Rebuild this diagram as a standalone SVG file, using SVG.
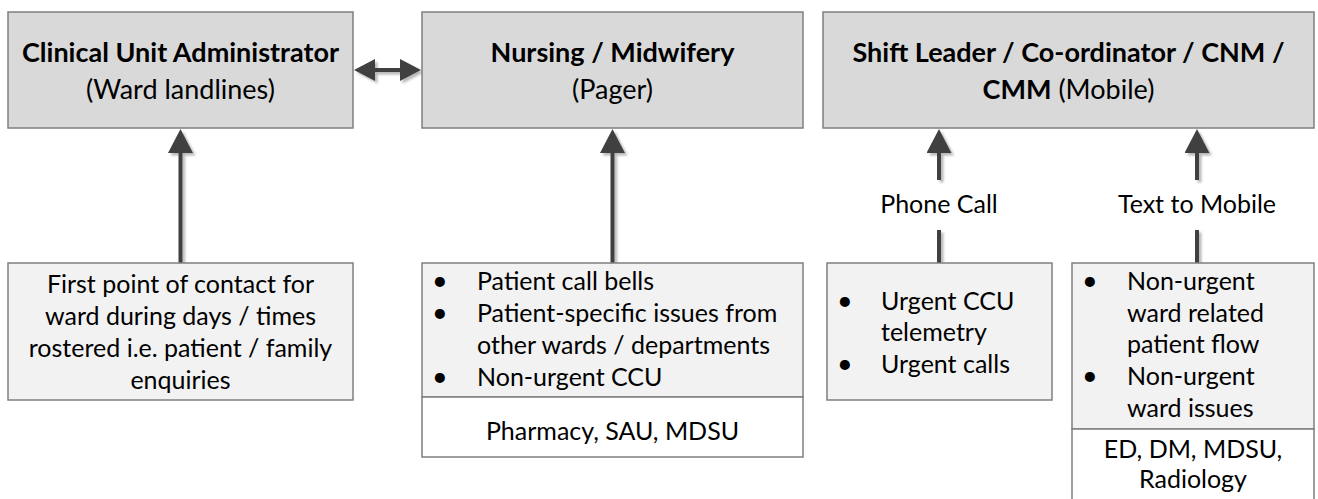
<svg xmlns="http://www.w3.org/2000/svg" width="1318" height="499" viewBox="0 0 1318 499">
<style>
  text { font-family: Lato, "Liberation Sans", sans-serif; fill: #000; }
  .t { font-size: 27px; font-weight: bold; text-anchor: middle; }
  .s { font-size: 27px; font-weight: normal; }
  .b { font-size: 25px; }
  .d { font-size: 27px; }
  .c { text-anchor: middle; }
  .head { fill: #d9d9d9; stroke: #7f7f7f; stroke-width: 1.5; }
  .low { fill: #f2f2f2; stroke: #7f7f7f; stroke-width: 1.5; }
  .wht { fill: #ffffff; stroke: #7f7f7f; stroke-width: 1.5; }
  .conn { stroke: #404040; stroke-width: 4; fill: none; }
</style>
<defs>
  <filter id="sh" x="-50%" y="-50%" width="200%" height="200%">
    <feDropShadow dx="2.5" dy="2.5" stdDeviation="0.8" flood-color="#9a9a9a" flood-opacity="0.7"/>
  </filter>
  <marker id="ah" viewBox="0 0 24 25" markerWidth="24" markerHeight="25" refX="0" refY="12.5" orient="auto-start-reverse" markerUnits="userSpaceOnUse">
    <path d="M0,0 L24,12.5 L0,25 Z" fill="#404040"/>
  </marker>
  <marker id="ahh" viewBox="0 0 21 22" markerWidth="21" markerHeight="22" refX="0" refY="11" orient="auto-start-reverse" markerUnits="userSpaceOnUse">
    <path d="M0,0 L21,11 L0,22 Z" fill="#404040"/>
  </marker>
</defs>

<g id="connectors" filter="url(#sh)">
  <line class="conn" x1="375" y1="70" x2="400" y2="70" marker-start="url(#ahh)" marker-end="url(#ahh)"/>
  <line class="conn" x1="180.5" y1="263" x2="180.5" y2="153" marker-end="url(#ah)"/>
  <line class="conn" x1="612.5" y1="263" x2="612.5" y2="153" marker-end="url(#ah)"/>
  <line class="conn" x1="939" y1="180" x2="939" y2="153" marker-end="url(#ah)"/>
  <line class="conn" x1="939" y1="263" x2="939" y2="230"/>
  <line class="conn" x1="1197" y1="180" x2="1197" y2="153" marker-end="url(#ah)"/>
  <line class="conn" x1="1197" y1="263" x2="1197" y2="230"/>
</g>

<g id="label-phone"><text class="b c" x="939" y="213">Phone Call</text></g>
<g id="label-text"><text class="b c" x="1197" y="213">Text to Mobile</text></g>

<g id="cua">
  <rect class="head" x="8" y="12" width="345" height="116"/>
  <text class="t" x="180.5" y="62">Clinical Unit Administrator</text>
  <text class="t s" x="180.5" y="99">(Ward landlines)</text>
</g>

<g id="nursing">
  <rect class="head" x="422" y="12" width="381" height="116"/>
  <text class="t" x="612.5" y="62">Nursing / Midwifery</text>
  <text class="t s" x="612.5" y="99">(Pager)</text>
</g>

<g id="shift">
  <rect class="head" x="823" y="12" width="491" height="116"/>
  <text class="t" x="1068.5" y="62">Shift Leader / Co-ordinator / CNM /</text>
  <text class="t" x="1068.5" y="99">CMM<tspan class="s"> (Mobile)</tspan></text>
</g>

<g id="first-contact">
  <rect class="low" x="8" y="263" width="345" height="137"/>
  <text class="b c" x="180.5" y="293">First point of contact for</text>
  <text class="b c" x="180.5" y="325">ward during days / times</text>
  <text class="b c" x="180.5" y="357">rostered i.e. patient / family</text>
  <text class="b c" x="180.5" y="389">enquiries</text>
</g>

<g id="nursing-list">
  <rect class="low" x="422" y="263" width="381" height="134"/>
  <rect class="wht" x="422" y="397" width="381" height="60"/>
  <text class="d" x="432" y="290">•</text><text class="b" x="477" y="290">Patient call bells</text>
  <text class="d" x="432" y="322">•</text><text class="b" x="477" y="322">Patient-specific issues from</text>
  <text class="b" x="477" y="354">other wards / departments</text>
  <text class="d" x="432" y="386">•</text><text class="b" x="477" y="386">Non-urgent CCU</text>
  <text class="b c" x="612.5" y="440">Pharmacy, SAU, MDSU</text>
</g>

<g id="phone-list">
  <rect class="low" x="827" y="263" width="225" height="137"/>
  <text class="d" x="837" y="310">•</text><text class="b" x="881" y="310">Urgent CCU</text>
  <text class="b" x="881" y="341">telemetry</text>
  <text class="d" x="837" y="373">•</text><text class="b" x="881" y="373">Urgent calls</text>
</g>

<g id="text-list">
  <rect class="low" x="1072" y="263" width="242" height="166"/>
  <rect class="wht" x="1072" y="429" width="242" height="80"/>
  <text class="d" x="1082" y="290">•</text><text class="b" x="1127" y="290">Non-urgent</text>
  <text class="b" x="1127" y="322">ward related</text>
  <text class="b" x="1127" y="353">patient flow</text>
  <text class="d" x="1082" y="385">•</text><text class="b" x="1127" y="385">Non-urgent</text>
  <text class="b" x="1127" y="417">ward issues</text>
  <text class="b c" x="1193" y="458">ED, DM, MDSU,</text>
  <text class="b c" x="1193" y="488">Radiology</text>
</g>
</svg>
